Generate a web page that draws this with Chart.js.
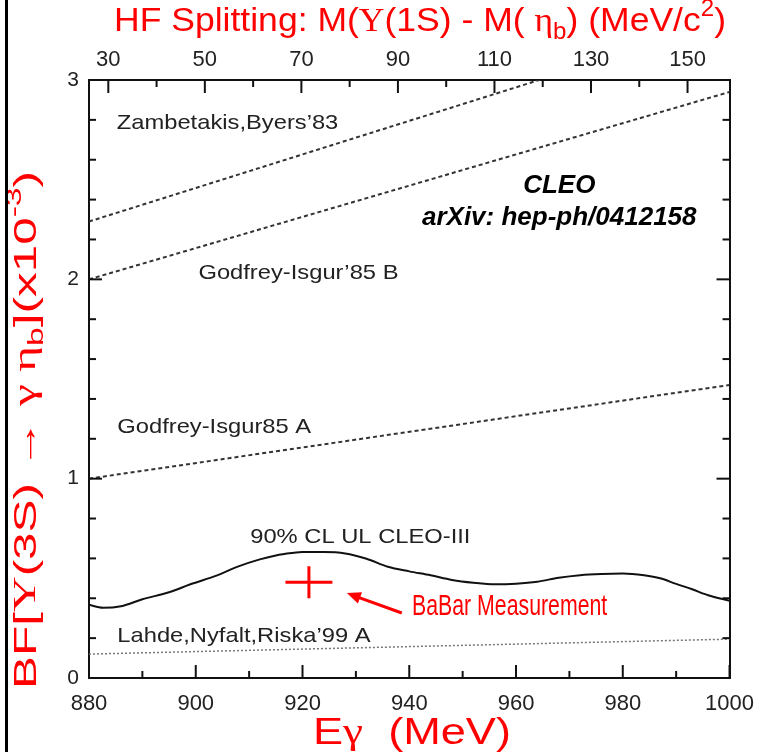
<!DOCTYPE html>
<html>
<head>
<meta charset="utf-8">
<title>Upsilon(3S) to gamma eta_b branching fraction</title>
<script src="https://cdn.jsdelivr.net/npm/chart.js@4.4.1/dist/chart.umd.min.js"></script>
<style>
  html, body { margin: 0; padding: 0; background: #fff; }
  #wrap { position: relative; width: 767px; height: 752px; }
  #edge { position: absolute; left: 5px; top: 0; width: 3px; height: 752px; background: #000; }
</style>
</head>
<body>
<div id="wrap">
  <canvas id="bfChart" width="767" height="752"></canvas>
  <div id="edge"></div>
</div>
<script>
// tick values
const eTicks = [880, 890, 900, 910, 920, 930, 940, 950, 960, 970, 980, 990, 1000];
const hfTicks = [30, 40, 50, 60, 70, 80, 90, 100, 110, 120, 130, 140, 150];
const bfTicks = [0, 0.2, 0.4, 0.6, 0.8, 1, 1.2, 1.4, 1.6, 1.8, 2, 2.2, 2.4, 2.6, 2.8, 3];

// 90% CL upper limit, CLEO-III
const ulEnergy = [880, 882.6, 886, 890, 895, 899, 904, 908, 912, 915, 918, 920, 924, 928, 932, 936,
                  940, 944, 948, 952, 956, 960, 964, 968, 972, 976, 980, 984, 987, 990, 993, 996, 1000];
const ulBF = [0.367, 0.352, 0.36, 0.395, 0.43, 0.47, 0.515, 0.56, 0.595, 0.615, 0.627, 0.632, 0.632, 0.625, 0.598, 0.558,
              0.535, 0.515, 0.492, 0.478, 0.47, 0.473, 0.483, 0.503, 0.516, 0.522, 0.524, 0.515, 0.5, 0.472, 0.445, 0.415, 0.387];

// model predictions (straight lines over the plotted range)
const lineEnergy = [880, 1000];
const zambetakisBF = [2.29, 3.30];
const godfreyBBF = [2.0, 2.94];
const godfreyABF = [1.0, 1.47];
const lahdeBF = [0.12, 0.195];

// BaBar point
const babarEnergy = 921.2;
const babarBF = 0.48;
const babarErrE = 4.4;
const babarErrBF = 0.08;

const pts = (xs, ys) => xs.map((x, i) => ({ x: x, y: ys[i] }));

const SANS = '"Liberation Sans", Arial, Helvetica, sans-serif';
const SERIF = '"Liberation Serif", "Times New Roman", serif';
const INK = '#222';
const RED = '#ff0000';

// labels placed in data coordinates
const notes = [
  { text: 'Zambetakis,Byers\u201983', x: 885.2, y: 2.785 },
  { text: 'Godfrey-Isgur\u201985 B', x: 900.5, y: 2.03 },
  { text: 'Godfrey-Isgur85 A', x: 885.3, y: 1.26 },
  { text: '90% CL UL CLEO-III', x: 910.2, y: 0.707 },
  { text: 'Lahde,Nyfalt,Riska\u201999 A', x: 885.3, y: 0.21 }
];

// text made of runs (serif greek letters, sub/superscripts), centred on cx,cy,
// squeezed or stretched horizontally to span `span` pixels
function drawRuns(ctx, runs, cx, cy, size, color, span) {
  const parts = runs.map(r => {
    const s = (r.sub || r.sup) ? size * 0.68 : size;
    const font = (r.italic ? 'italic ' : '') + s + 'px ' + (r.serif ? SERIF : SANS);
    ctx.font = font;
    return { t: r.t, font: font, w: ctx.measureText(r.t).width,
             dy: r.sub ? size * 0.32 : (r.sup ? -size * 0.36 : 0) };
  });
  const total = parts.reduce((s, p) => s + p.w, 0);
  const k = span ? span / total : 1;
  ctx.save();
  ctx.translate(cx, cy);
  ctx.scale(k, 1);
  let x = -total / 2;
  ctx.fillStyle = color;
  ctx.textAlign = 'left';
  ctx.textBaseline = 'middle';
  parts.forEach(p => {
    ctx.font = p.font;
    ctx.fillText(p.t, x, p.dy);
    x += p.w;
  });
  ctx.restore();
}

// inward tick marks on all four sides
const tickMarks = {
  id: 'tickMarks',
  afterDatasetsDraw(chart) {
    const { ctx, chartArea: a, scales } = chart;
    ctx.save();
    ctx.strokeStyle = '#111';
    ctx.lineWidth = 2;
    const mark = (scale, isMajor, side) => {
      scale.ticks.forEach(t => {
        const p = scale.getPixelForValue(t.value);
        const len = isMajor(t.value) ? 13 : 7;
        ctx.beginPath();
        if (side === 'bottom') { ctx.moveTo(p, a.bottom); ctx.lineTo(p, a.bottom - len); }
        if (side === 'top') { ctx.moveTo(p, a.top); ctx.lineTo(p, a.top + len); }
        if (side === 'left') { ctx.moveTo(a.left, p); ctx.lineTo(a.left + len, p); }
        if (side === 'right') { ctx.moveTo(a.right, p); ctx.lineTo(a.right - len, p); }
        ctx.stroke();
      });
    };
    mark(scales.x, v => v % 20 === 0, 'bottom');
    mark(scales.x2, v => (v - 30) % 20 === 0, 'top');
    mark(scales.y, v => Number.isInteger(v), 'left');
    mark(scales.y2, v => Number.isInteger(v), 'right');
    ctx.restore();
  }
};

// titles and text annotations
const annotations = {
  id: 'annotations',
  afterDraw(chart) {
    const { ctx, scales } = chart;
    const X = scales.x, Y = scales.y;
    ctx.save();

    drawRuns(ctx, [
      { t: 'HF Splitting: M(' }, { t: '\u03A5', serif: true }, { t: '(1S) - M( ' },
      { t: '\u03B7', serif: true }, { t: 'b', sub: true }, { t: ') (MeV/c' },
      { t: '2', sup: true }, { t: ')' }
    ], 420, 22, 34, RED, 612);

    drawRuns(ctx, [
      { t: 'E' }, { t: '\u03B3', serif: true }, { t: '  (MeV)' }
    ], 412, 734, 36, RED, 198);

    ctx.save();
    ctx.translate(27, 430);
    ctx.rotate(-Math.PI / 2);
    drawRuns(ctx, [
      { t: 'BF[' }, { t: '\u03A5', serif: true }, { t: '(3S) \u2192 ' },
      { t: '\u03B3 \u03B7', serif: true }, { t: 'b', sub: true }, { t: '](x10' },
      { t: '-3', sup: true }, { t: ')' }
    ], 0, 0, 32, RED, 518);
    ctx.restore();

    // model labels, slightly wide lettering
    ctx.fillStyle = INK;
    ctx.textBaseline = 'middle';
    ctx.textAlign = 'left';
    ctx.font = '21px ' + SANS;
    notes.forEach(n => {
      ctx.save();
      ctx.translate(X.getPixelForValue(n.x), Y.getPixelForValue(n.y));
      ctx.scale(1.13, 1);
      ctx.fillText(n.text, 0, 0);
      ctx.restore();
    });

    ctx.fillStyle = '#000';
    ctx.textAlign = 'center';
    ctx.font = 'italic bold 26px ' + SANS;
    ctx.fillText('CLEO', X.getPixelForValue(968.1), Y.getPixelForValue(2.47));
    ctx.fillText('arXiv: hep-ph/0412158', X.getPixelForValue(968.1), Y.getPixelForValue(2.31));

    // arrow to the BaBar point
    const tx = X.getPixelForValue(928.3), ty = Y.getPixelForValue(0.426);
    const sx = X.getPixelForValue(938.6), sy = Y.getPixelForValue(0.326);
    const ang = Math.atan2(ty - sy, tx - sx);
    ctx.strokeStyle = RED;
    ctx.fillStyle = RED;
    ctx.lineWidth = 3;
    ctx.beginPath();
    ctx.moveTo(sx, sy);
    ctx.lineTo(tx - 8 * Math.cos(ang), ty - 8 * Math.sin(ang));
    ctx.stroke();
    ctx.beginPath();
    ctx.moveTo(tx, ty);
    ctx.lineTo(tx - 14 * Math.cos(ang) + 6 * Math.sin(ang), ty - 14 * Math.sin(ang) - 6 * Math.cos(ang));
    ctx.lineTo(tx - 14 * Math.cos(ang) - 6 * Math.sin(ang), ty - 14 * Math.sin(ang) + 6 * Math.cos(ang));
    ctx.closePath();
    ctx.fill();

    ctx.save();
    ctx.translate(X.getPixelForValue(940.5), Y.getPixelForValue(0.356));
    ctx.scale(0.71, 1);
    ctx.textAlign = 'left';
    ctx.font = '30px ' + SANS;
    ctx.fillText('BaBar Measurement', 0, 0);
    ctx.restore();

    ctx.restore();
  }
};

const dashed = { borderColor: '#333', borderWidth: 2, borderDash: [4, 3], pointRadius: 0, fill: false };

new Chart(document.getElementById('bfChart'), {
  type: 'line',
  data: {
    datasets: [
      Object.assign({ label: 'Zambetakis,Byers 83', data: pts(lineEnergy, zambetakisBF) }, dashed),
      Object.assign({ label: 'Godfrey-Isgur 85 B', data: pts(lineEnergy, godfreyBBF) }, dashed),
      Object.assign({ label: 'Godfrey-Isgur 85 A', data: pts(lineEnergy, godfreyABF) }, dashed),
      { label: 'Lahde,Nyfalt,Riska 99 A', data: pts(lineEnergy, lahdeBF),
        borderColor: '#777', borderWidth: 1.5, borderDash: [2, 2], pointRadius: 0 },
      { label: '90% CL UL CLEO-III', data: pts(ulEnergy, ulBF),
        borderColor: '#111', borderWidth: 2, cubicInterpolationMode: 'monotone', pointRadius: 0 },
      { label: 'BaBar (energy)', data: [{ x: babarEnergy - babarErrE, y: babarBF }, { x: babarEnergy + babarErrE, y: babarBF }],
        borderColor: RED, borderWidth: 3, pointRadius: 0 },
      { label: 'BaBar (BF)', data: [{ x: babarEnergy, y: babarBF - babarErrBF }, { x: babarEnergy, y: babarBF + babarErrBF }],
        borderColor: RED, borderWidth: 3, pointRadius: 0 }
    ]
  },
  options: {
    responsive: false,
    animation: false,
    events: [],
    layout: { padding: 0 },
    plugins: { legend: { display: false }, tooltip: { enabled: false }, title: { display: false } },
    scales: {
      x: {
        type: 'linear', position: 'bottom', min: 880, max: 1000,
        afterBuildTicks: s => { s.ticks = eTicks.map(v => ({ value: v })); },
        afterFit: s => { s.height = 74; },
        grid: { display: false, drawTicks: false },
        border: { display: true, color: '#111', width: 2 },
        ticks: { padding: 13, color: INK, font: { family: SANS, size: 22 },
                 maxRotation: 0, autoSkip: false,
                 callback: v => (v % 20 === 0 ? String(v) : '') }
      },
      x2: {
        type: 'linear', position: 'top', min: 26.0, max: 158.7,
        afterBuildTicks: s => { s.ticks = hfTicks.map(v => ({ value: v })); },
        afterFit: s => { s.height = 80; },
        grid: { display: false, drawTicks: false },
        border: { display: true, color: '#111', width: 2 },
        ticks: { padding: 7, color: INK, font: { family: SANS, size: 22 },
                 maxRotation: 0, autoSkip: false,
                 callback: v => ((v - 30) % 20 === 0 ? String(v) : '') }
      },
      y: {
        type: 'linear', position: 'left', min: 0, max: 3,
        afterBuildTicks: s => { s.ticks = bfTicks.map(v => ({ value: v })); },
        afterFit: s => { s.width = 89; },
        grid: { display: false, drawTicks: false },
        border: { display: true, color: '#111', width: 2 },
        ticks: { padding: 10, color: INK, font: { family: SANS, size: 21 }, autoSkip: false,
                 callback: v => (Number.isInteger(v) ? String(v) : '') }
      },
      y2: {
        type: 'linear', position: 'right', min: 0, max: 3,
        afterBuildTicks: s => { s.ticks = bfTicks.map(v => ({ value: v })); },
        afterFit: s => { s.width = 27; },
        grid: { display: false, drawTicks: false },
        border: { display: true, color: '#111', width: 2 },
        ticks: { display: false }
      }
    }
  },
  plugins: [tickMarks, annotations]
});
</script>
</body>
</html>
